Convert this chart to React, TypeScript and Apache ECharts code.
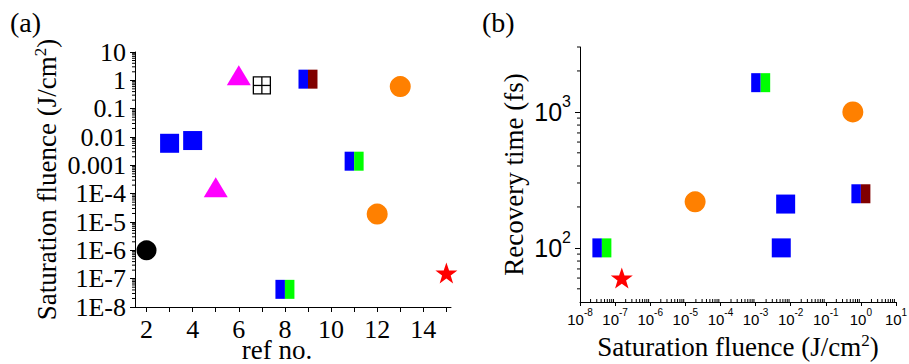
import React, { useEffect, useRef } from 'react';
import * as echarts from 'echarts';

// ---------- Panel (a): saturation fluence vs reference number ----------
const refLabelValues = [2, 4, 6, 8, 10, 12, 14];
const refTickValues = [2, 3, 4, 5, 6, 7, 8, 9, 10, 11, 12, 13, 14, 15];
const fluenceLabelsA = ['1E-8', '1E-7', '1E-6', '1E-5', '1E-4', '0.001', '0.01', '0.1', '1', '10'];

const aBlackCircle = [[2, 1.0e-6]];
const aBlueSquares = [[3, 0.006], [4, 0.0075]];
const aMagentaTriangles = [[5, 1.7e-4], [6, 1.5]];
const aCrossedSquare = [[7, 0.66]];
const aBlueGreen = [[8, 4.2e-8], [11, 1.4e-3]];
const aBlueDarkRed = [[9, 1.1]];
const aOrangeCircles = [[12, 1.9e-5], [13, 0.6]];
const aRedStar = [[15, 1.6e-7]];

// ---------- Panel (b): recovery time vs saturation fluence ----------
const bBlueGreen = [[4.2e-8, 100], [1.4e-3, 1640]];
const bRedStar = [[1.55e-7, 60]];
const bOrangeCircles = [[1.9e-5, 218], [0.59, 1000]];
const bBlueSquares = [[0.0072, 210], [0.0054, 100]];
const bBlueDarkRed = [[1.0, 250]];

const SERIF = '"Liberation Serif", "Times New Roman", serif';
const SANS = '"Liberation Sans", Arial, sans-serif';
const BLUE = '#0000ff';
const GREEN = '#00ff00';
const DARKRED = '#800000';
const MAGENTA = '#ff00ff';
const ORANGE = '#ff8000';
const RED = '#ff0000';

const STAR =
  'path://M50,0 L61.8,35.1 L98.1,35.1 L68.8,56.8 L79.4,91.4 L50,70.2 L20.6,91.4 L31.2,56.8 L1.9,35.1 L38.2,35.1 Z';

// minor log tick positions (axis decoration only)
function logMinor(fromExp: number, toExp: number, lo: number, hi: number): number[] {
  const out: number[] = [];
  for (let e = fromExp; e <= toExp; e++) {
    for (let m = 2; m <= 9; m++) {
      const v = m * Math.pow(10, e);
      if (v > lo * 1.0001 && v < hi * 1.0001) out.push(v);
    }
  }
  return out;
}

function tickSeries(xi: number, yi: number, data: number[][], dir: string, len: number) {
  return {
    type: 'custom',
    xAxisIndex: xi,
    yAxisIndex: yi,
    silent: true,
    clip: false,
    z: 1,
    data,
    renderItem: (_p: any, api: any) => {
      const p = api.coord([api.value(0), api.value(1)]);
      let shape;
      if (dir === 'left') shape = { x1: p[0] - len, y1: p[1], x2: p[0], y2: p[1] };
      else if (dir === 'up') shape = { x1: p[0], y1: p[1] - len, x2: p[0], y2: p[1] };
      else shape = { x1: p[0], y1: p[1], x2: p[0], y2: p[1] + len };
      return { type: 'line', shape, style: { stroke: '#000', lineWidth: 1 } };
    },
  };
}

function twoColorSeries(xi: number, yi: number, data: number[][], right: string) {
  return {
    type: 'custom',
    xAxisIndex: xi,
    yAxisIndex: yi,
    clip: false,
    z: 3,
    data,
    renderItem: (_p: any, api: any) => {
      const c = api.coord([api.value(0), api.value(1)]);
      const s = 19;
      return {
        type: 'group',
        children: [
          { type: 'rect', shape: { x: c[0] - s / 2, y: c[1] - s / 2, width: s / 2, height: s }, style: { fill: BLUE } },
          { type: 'rect', shape: { x: c[0], y: c[1] - s / 2, width: s / 2, height: s }, style: { fill: right } },
        ],
      };
    },
  };
}

function crossedSquareSeries(xi: number, yi: number, data: number[][]) {
  return {
    type: 'custom',
    xAxisIndex: xi,
    yAxisIndex: yi,
    clip: false,
    z: 3,
    data,
    renderItem: (_p: any, api: any) => {
      const c = api.coord([api.value(0), api.value(1)]);
      const s = 17;
      const st = { stroke: '#000', lineWidth: 1.3 };
      return {
        type: 'group',
        children: [
          { type: 'rect', shape: { x: c[0] - s / 2, y: c[1] - s / 2, width: s, height: s }, style: { fill: '#fff', ...st } },
          { type: 'line', shape: { x1: c[0], y1: c[1] - s / 2, x2: c[0], y2: c[1] + s / 2 }, style: st },
          { type: 'line', shape: { x1: c[0] - s / 2, y1: c[1], x2: c[0] + s / 2, y2: c[1] }, style: st },
        ],
      };
    },
  };
}

const supRich = (base: number, sup: number, lh: number) => ({
  b: { fontFamily: SANS, fontSize: base, color: '#000', lineHeight: lh, verticalAlign: 'middle' },
  s: { fontFamily: SANS, fontSize: sup, color: '#000', lineHeight: sup, verticalAlign: 'top' },
});

const serifRich = {
  t: { fontFamily: SERIF, fontSize: 26, color: '#000', lineHeight: 28 },
};

const titleRich = {
  t: { fontFamily: SERIF, fontSize: 27, color: '#000', lineHeight: 30, verticalAlign: 'middle' },
  s: { fontFamily: SERIF, fontSize: 17, color: '#000', lineHeight: 17, verticalAlign: 'top' },
};

const axisLine = { show: true, onZero: false, lineStyle: { color: '#000', width: 1 } };
const solid = (color: string) => ({ color, opacity: 1 });

export default function App() {
  const ref = useRef<HTMLDivElement>(null);
  useEffect(() => {
    if (!ref.current) return;
    const chart = echarts.init(ref.current, null, { renderer: 'svg' });

    const aYMinor = logMinor(-8, 0, 1e-8, 10).map((v) => [1.5, v]);
    const bYMinor = logMinor(1, 3, 40, 3000).map((v) => [1e-8, v]);
    const bXMinor = logMinor(-8, 0, 1e-8, 10).map((v) => [v, 40]);

    const option: any = {
      animation: false,
      backgroundColor: '#fff',
      grid: [
        { left: 135, top: 52, width: 316, height: 255, containLabel: false, outerBoundsMode: 'none' },
        { left: 580, top: 47, width: 316, height: 255, containLabel: false, outerBoundsMode: 'none' },
      ],
      xAxis: [
        {
          gridIndex: 0,
          type: 'value',
          min: 1.5,
          max: 15.2,
          axisLine,
          axisTick: { show: true, customValues: refTickValues, length: 5, lineStyle: { color: '#000' } },
          axisLabel: {
            customValues: refLabelValues,
            margin: 8,
            formatter: (v: number) => '{t|' + v + '}',
            rich: serifRich,
          },
          splitLine: { show: false },
        },
        {
          gridIndex: 1,
          type: 'log',
          logBase: 10,
          min: 1e-8,
          max: 10,
          axisLine,
          axisTick: { show: true, length: 4, lineStyle: { color: '#000' } },
          axisLabel: {
            margin: 5,
            formatter: (v: number) => '{b|10}{s|' + Math.round(Math.log10(v)) + '}',
            rich: supRich(15, 10, 24),
          },
          splitLine: { show: false },
          name: '{t|Saturation fluence (J/cm}{s|2}{t|)}',
          nameLocation: 'middle',
          nameGap: 30,
          nameTextStyle: { rich: titleRich },
        },
      ],
      yAxis: [
        {
          gridIndex: 0,
          type: 'log',
          logBase: 10,
          min: 1e-8,
          max: 10,
          axisLine,
          axisTick: { show: true, length: 5, lineStyle: { color: '#000' } },
          axisLabel: {
            margin: 9,
            formatter: (v: number) => '{t|' + fluenceLabelsA[Math.round(Math.log10(v)) + 8] + '}',
            rich: serifRich,
          },
          splitLine: { show: false },
          name: '{t|Saturation fluence (J/cm}{s|2}{t|)}',
          nameLocation: 'middle',
          nameGap: 73,
          nameTextStyle: { rich: titleRich },
        },
        {
          gridIndex: 1,
          type: 'log',
          logBase: 10,
          min: 40,
          max: 3000,
          axisLine,
          axisTick: { show: true, length: 5, lineStyle: { color: '#000' } },
          axisLabel: {
            margin: 9,
            showMinLabel: false,
            showMaxLabel: false,
            formatter: (v: number) => '{b|10}{s|' + Math.round(Math.log10(v)) + '}',
            rich: supRich(25, 16, 36),
          },
          splitLine: { show: false },
          name: '{t|Recovery time (fs)}',
          nameLocation: 'middle',
          nameGap: 51,
          nameTextStyle: { rich: titleRich },
        },
      ],
      graphic: [
        { type: 'text', left: 10, top: 8, style: { text: '(a)', font: '28px "Liberation Serif"', fill: '#000' } },
        { type: 'text', left: 482, top: 8, style: { text: '(b)', font: '28px "Liberation Serif"', fill: '#000' } },
        {
          type: 'text',
          x: 277,
          y: 363,
          style: {
            text: 'ref no.',
            font: '27px "Liberation Serif"',
            fill: '#000',
            textAlign: 'center',
            textVerticalAlign: 'bottom',
          },
        },
      ],
      series: [
        tickSeries(0, 0, aYMinor, 'left', 3),
        tickSeries(1, 1, bYMinor, 'left', 3),
        tickSeries(1, 1, bXMinor, 'up', 3),
        // panel a
        { type: 'scatter', xAxisIndex: 0, yAxisIndex: 0, data: aBlackCircle, symbol: 'circle', symbolSize: 20, itemStyle: solid('#000'), z: 3 },
        { type: 'scatter', xAxisIndex: 0, yAxisIndex: 0, data: aBlueSquares, symbol: 'rect', symbolSize: 19, itemStyle: solid(BLUE), z: 3 },
        { type: 'scatter', xAxisIndex: 0, yAxisIndex: 0, data: aMagentaTriangles, symbol: 'triangle', symbolSize: [24, 20], itemStyle: solid(MAGENTA), z: 3 },
        crossedSquareSeries(0, 0, aCrossedSquare),
        twoColorSeries(0, 0, aBlueGreen, GREEN),
        twoColorSeries(0, 0, aBlueDarkRed, DARKRED),
        { type: 'scatter', xAxisIndex: 0, yAxisIndex: 0, data: aOrangeCircles, symbol: 'circle', symbolSize: 21, itemStyle: solid(ORANGE), z: 3 },
        { type: 'scatter', xAxisIndex: 0, yAxisIndex: 0, data: aRedStar, symbol: STAR, symbolSize: [22, 21], itemStyle: solid(RED), z: 3 },
        // panel b
        twoColorSeries(1, 1, bBlueGreen, GREEN),
        { type: 'scatter', xAxisIndex: 1, yAxisIndex: 1, data: bRedStar, symbol: STAR, symbolSize: [22, 21], itemStyle: solid(RED), z: 3 },
        { type: 'scatter', xAxisIndex: 1, yAxisIndex: 1, data: bOrangeCircles, symbol: 'circle', symbolSize: 21, itemStyle: solid(ORANGE), z: 3 },
        { type: 'scatter', xAxisIndex: 1, yAxisIndex: 1, data: bBlueSquares, symbol: 'rect', symbolSize: 19, itemStyle: solid(BLUE), z: 3 },
        twoColorSeries(1, 1, bBlueDarkRed, DARKRED),
      ],
    };
    chart.setOption(option);
    return () => chart.dispose();
  }, []);

  return (
    <div
      ref={ref}
      style={{ position: 'absolute', left: 0, top: 0, width: 909, height: 364, background: '#fff' }}
    />
  );
}
